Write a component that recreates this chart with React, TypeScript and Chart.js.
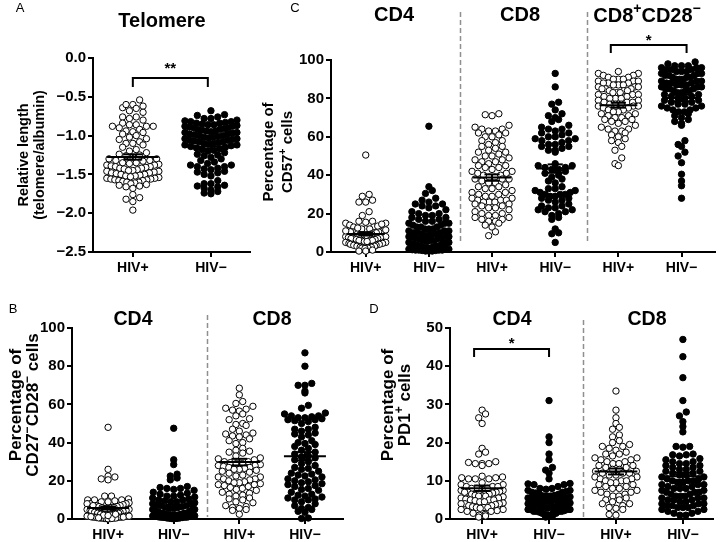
import React, { useEffect, useRef } from "react";
import { Chart, registerables } from "chart.js";

Chart.register(...registerables);

const FONT = "'Liberation Sans', Arial, Helvetica, sans-serif";
const W = 720;
const H = 542;

// ---------------- DATA ----------------
// Panel A: telomere relative length
const A_CATEGORIES = ["HIV+", "HIV−"];
const A_Y_TICKS = [0, -0.5, -1.0, -1.5, -2.0, -2.5];
const A_HIV_POS = [
  -0.54, -0.60, -0.62, -0.64, -0.65, -0.60, -0.68, -0.70,
  -0.76, -0.76, -0.78, -0.80, -0.84, -0.86, -0.88, -0.88, -0.90, -0.88, -0.86, -0.92,
  -0.94, -0.95, -0.96, -0.98, -1.00, -1.02, -1.04, -1.05, -1.08, -1.10, -1.12, -1.10,
  -1.15, -1.18, -1.20, -1.22, -1.24, -1.25, -1.26, -1.28, -1.30, -1.30, -1.32, -1.32, -1.33,
  -1.35, -1.35, -1.36, -1.37, -1.38, -1.38, -1.39, -1.40, -1.40, -1.41, -1.42, -1.42, -1.43,
  -1.44, -1.45, -1.45, -1.46, -1.46, -1.47, -1.48, -1.48, -1.49, -1.50, -1.50, -1.51, -1.52,
  -1.52, -1.53, -1.54, -1.55, -1.55, -1.56, -1.56, -1.57, -1.57, -1.58, -1.58, -1.59, -1.60,
  -1.60, -1.61, -1.62, -1.63, -1.64, -1.65, -1.66, -1.68,
  -1.76, -1.80, -1.82, -1.85, -1.96,
];
const A_HIV_NEG = [
  -0.68, -0.73, -0.74, -0.76, -0.78, -0.78,
  -0.80, -0.81, -0.82, -0.82, -0.83, -0.84, -0.84, -0.85, -0.86, -0.86, -0.87, -0.88, -0.88,
  -0.89, -0.90, -0.90, -0.91, -0.92, -0.92, -0.93, -0.94, -0.94, -0.95, -0.96, -0.96, -0.97,
  -0.98, -0.98, -0.99, -1.00, -1.00, -1.01, -1.02, -1.02, -1.03, -1.04, -1.04, -1.05, -1.06,
  -1.06, -1.07, -1.08, -1.08, -1.09, -1.10, -1.10, -1.11, -1.12, -1.12, -1.13, -1.14, -1.15,
  -1.16, -1.17, -1.18, -1.19, -1.20,
  -1.22, -1.24, -1.25, -1.26, -1.28, -1.30, -1.32, -1.34, -1.36, -1.38, -1.38, -1.40, -1.40,
  -1.42, -1.43, -1.44, -1.46, -1.47, -1.48, -1.50, -1.52,
  -1.58, -1.62, -1.62, -1.64, -1.65, -1.66, -1.68, -1.70, -1.72, -1.74, -1.75,
];

// Panel B: % CD27-CD28- cells
const B_CATEGORIES = ["HIV+", "HIV−", "HIV+", "HIV−"];
const B_Y_TICKS = [0, 20, 40, 60, 80, 100];
const B_CD4_HIV_POS = [
  48, 26, 22.5, 22, 21, 20.5, 12, 12, 10.5, 10, 10, 10, 9.5, 9, 9, 8.5, 8, 8, 8, 7.5, 7, 7, 7,
  6.5, 6.5, 6, 6, 6, 5.5, 5.5, 5, 5, 5, 5, 4.5, 4.5, 4.5, 4, 4, 4, 4, 3.5, 3.5, 3.5, 3, 3, 3, 3,
  2.5, 2.5, 2.5, 2.5, 2, 2, 2, 2, 1.5, 1.5, 1.5, 1.5, 1, 1, 1, 1, 0.8, 0.5, 0.5, 0.5, 0.3, 0.2,
  0.2, 0.1, 0.5, 1, 1.5, 2, 0.8, 1.2, 0.3, 2.5, 1.8, 0.6,
];
const B_CD4_HIV_NEG = [
  47.5, 31, 28.5, 23.5, 22.5, 21.5, 20.5, 17, 16.5, 16, 16, 15.5, 15, 14, 13.5, 13, 12.5, 12, 12,
  11.5, 11, 10.5, 10, 10, 9.5, 9, 9, 8.5, 8, 8, 7.5, 7, 7, 6.5, 6, 6, 5.5, 5.5, 5, 5, 5, 4.5, 4.5,
  4, 4, 4, 3.5, 3.5, 3, 3, 3, 3, 2.5, 2.5, 2.5, 2, 2, 2, 2, 1.5, 1.5, 1.5, 1, 1, 1, 1, 0.8, 0.5,
  0.5, 0.5, 0.3, 0.2, 0.2, 0.5, 1, 1.5, 2, 2.5, 3, 0.8, 1.2, 0.3, 1.8, 2.2, 0.6, 1.4, 1.6, 2.4,
  0.9, 1.1, 1.7, 2.1, 1.3, 0.7, 1.9,
];
const B_CD8_HIV_POS = [
  68.5, 65, 61.5, 60.5, 59, 58, 57.5, 57, 56.5, 55, 54, 52.5, 52, 50, 49.5, 49, 47, 46, 45, 44.5,
  44, 43.5, 43, 42, 41, 40, 39.5, 37, 36, 35.5, 35, 34.5, 33, 32, 31.5, 31, 30, 30, 29.5, 29, 29,
  28.5, 28, 28, 27.5, 27, 27, 26.5, 26, 26, 25.5, 25, 24.5, 24, 23, 22.5, 22, 22, 21, 21, 20.5,
  20, 19.5, 19, 19, 18.5, 18, 18, 17.5, 17, 16.5, 16, 15.5, 15, 14, 13.5, 13, 12.5, 12, 11, 10.5,
  10, 9, 8.5, 7, 6.5, 6, 5.5, 5, 4.5, 2.5,
];
const B_CD8_HIV_NEG = [
  87, 80, 71, 70, 70, 67, 66, 59.5, 58, 55.5, 55, 54, 54, 53.5, 53, 53, 52.5, 52, 52, 51.5, 51,
  50, 48, 47, 47, 46, 45, 44.5, 44, 43, 41, 40, 39.5, 39, 38, 37, 36, 35, 34, 33, 32.5, 32, 31,
  30, 29, 28, 27, 26.5, 26, 25, 24, 23.5, 23, 22.5, 22, 21, 20.5, 20, 19.5, 19, 18.5, 18, 17.5,
  17, 16, 15.5, 15, 14, 13, 12.5, 12, 11.5, 11, 10.5, 10, 10, 9, 8, 7, 6, 5.5, 5, 4, 3.5, 0.5, 0.3,
];

// Panel C: % CD57+ cells
const C_CATEGORIES = ["HIV+", "HIV−", "HIV+", "HIV−", "HIV+", "HIV−"];
const C_Y_TICKS = [0, 20, 40, 60, 80, 100];
const C_CD4_HIV_POS = [
  50.5, 30, 29, 27, 26, 26, 21, 19, 16, 15.5, 15, 15, 16, 14, 13, 13, 12, 12, 12, 11, 11, 11,
  10.5, 10.5, 10, 10, 10, 9.5, 9.5, 9, 9, 9, 8.5, 8.5, 8, 8, 8, 7.5, 7.5, 7, 7, 7, 6.5, 6.5, 6, 6,
  6, 6, 5.5, 5.5, 5, 5, 5, 5, 4.5, 4.5, 4.5, 4, 4, 4, 4, 3.5, 3.5, 3.5, 3, 3, 3, 3, 2.5, 2.5, 2.5,
  2, 2, 2, 2, 1.8, 12.5, 13.5, 11.5, 14.5, 10.5, 11, 1, 0.5, 0.5,
];
const C_CD4_HIV_NEG = [
  65.5, 34, 32, 30.5, 28, 27, 26, 25, 25, 24, 24, 23, 22, 21, 20, 20, 19, 19, 18, 18, 17, 17, 16,
  16, 15, 15, 15, 14, 14, 13, 13, 13, 12, 12, 12, 11, 11, 11, 10, 10, 10, 9.5, 9, 9, 8.5, 8, 8, 8,
  7.5, 7, 7, 7, 6.5, 6, 6, 6, 5.5, 5, 5, 5, 4.5, 4.5, 4, 4, 4, 3.5, 3.5, 3, 3, 3, 2.5, 2.5, 2, 2,
  2, 1.5, 1.5, 1, 1, 0.8, 0.5, 0.5, 0.5, 1, 1.5, 2, 2.5, 3, 3.5, 4, 1, 2, 0.8, 1.2, 2.8, 3.2,
];
const C_CD8_HIV_POS = [
  72, 71.5, 71, 66, 65, 64, 64, 63, 63, 62, 62, 61, 60, 60, 58, 58, 57, 56, 55, 55, 54, 53, 52, 52,
  51, 50, 50, 49, 48, 48, 47, 47, 46, 45, 45, 44, 44, 43, 42, 42, 41, 41, 40, 40, 39, 39, 38, 38,
  38, 37, 36, 36, 35, 34, 34, 33, 33, 32, 31, 31, 30, 30, 29, 29, 28, 28, 27, 27, 27, 26, 26, 26,
  25, 25, 24, 24, 23, 23, 22, 21, 20, 20, 19, 19, 18, 18, 17, 17, 16, 16, 15, 14, 13, 10.5, 8.5,
];
const C_CD8_HIV_NEG = [
  93, 86, 78, 77, 74, 72, 71, 70, 69, 68, 66, 65, 64, 64, 63, 62, 62, 61, 60, 60, 59, 59, 58, 58,
  57, 56, 56, 55, 55, 54, 53, 53, 52,
  46, 45, 45, 44, 44, 43, 43, 42, 41, 40, 39, 38, 37, 36,
  34, 33, 33, 32, 32, 31, 31, 30, 30, 30, 29, 29, 28, 28, 27, 27, 26,
  25, 24, 24, 23, 23, 22, 22, 21, 21, 20, 19, 18, 17,
  12, 10, 9.5, 5,
];
const C_CD28N_HIV_POS = [
  94, 93, 93, 92, 92, 91, 91, 90, 90, 90, 89, 89, 89, 88, 88, 88, 87, 87, 87, 86, 86, 86, 85, 85,
  85, 84, 84, 84, 83, 83, 83, 82, 82, 82, 81, 81, 80, 80, 80, 79, 79, 78, 78, 78, 77, 77, 77, 76,
  76, 76, 75, 75, 74, 74, 73, 73, 72, 72, 71, 71, 70, 70, 69, 69, 68, 68, 67, 66, 65, 64, 64, 63,
  63, 62, 61, 60, 59, 58, 57, 55, 53, 49, 46, 45,
];
const C_CD28N_HIV_NEG = [
  99, 98, 97, 97, 97, 96, 96, 96, 95, 95, 95, 94, 94, 94, 93, 93, 93, 92, 92, 92, 91, 91, 91, 90,
  90, 90, 89, 89, 89, 88, 88, 88, 87, 87, 87, 86, 86, 86, 85, 85, 85, 84, 84, 84, 83, 83, 82, 82,
  81, 81, 80, 80, 79, 79, 78, 78, 77, 77, 76, 76, 75, 75, 74, 74, 73, 73, 72, 71, 70, 69, 68, 67,
  66, 58, 56, 55, 52, 50, 46.5, 40.5, 37, 34.5, 28,
];

// Panel D: % PD1+ cells
const D_CATEGORIES = ["HIV+", "HIV−", "HIV+", "HIV−"];
const D_Y_TICKS = [0, 10, 20, 30, 40, 50];
const D_CD4_HIV_POS = [
  28.5, 27.5, 26.5, 25, 18.5, 17.5, 17, 15, 14.8, 14.5, 14.5, 14, 14.5, 11.2, 11, 10.8, 10.5,
  10.5, 10.8, 10.5, 9.5, 9, 9, 8.5, 8.5, 8.5, 8, 8, 8, 7.8, 7.5, 7.5, 7.2, 7, 7, 7, 6.8, 6.5, 6.5,
  6.2, 6, 6, 6, 5.8, 5.5, 5.5, 5.2, 5, 5, 5, 4.8, 4.5, 4.5, 4.2, 4, 4, 4, 3.8, 3.5, 3.5, 3.2, 3, 3,
  3, 2.8, 2.5, 2.5, 2.2, 2, 2, 1.5, 1.2, 1, 0.8, 0.5,
];
const D_CD4_HIV_NEG = [
  31, 21.5, 20, 17, 15.5, 13.5, 12.8, 12, 10.5, 9.3, 9.2, 9, 9, 8.5, 8, 8, 7.8, 7.5, 7.5, 7.2, 7,
  7, 6.8, 6.5, 6.5, 6.2, 6, 6, 6, 5.8, 5.5, 5.5, 5.5, 5.2, 5, 5, 5, 4.8, 4.5, 4.5, 4.5, 4.2, 4, 4,
  4, 3.8, 3.5, 3.5, 3.5, 3.2, 3, 3, 3, 2.8, 2.5, 2.5, 2.5, 2.2, 2, 2, 2, 1.8, 1.5, 1.5, 1.2, 1, 1,
  0.8, 0.5, 3, 2.5, 2, 4, 1.5, 3.5,
];
const D_CD8_HIV_POS = [
  33.5, 28.5, 26.5, 25, 24, 23.5, 22, 21.5, 20.5, 20, 19.5, 19, 19, 18.5, 18, 17.5, 17, 17, 16.5,
  16, 16, 15.5, 15.5, 15, 15, 14.5, 14.5, 14, 14, 13.5, 13.5, 13, 13, 12.5, 12.5, 12, 12, 12, 11.5,
  11.5, 11, 11, 10.5, 10.5, 10, 10, 10, 9.5, 9.5, 9, 9, 8.5, 8.5, 8, 8, 7.5, 7.5, 7, 7, 6.5, 6.5,
  6, 6, 5.5, 5, 5, 4.5, 4, 4, 3.5, 3, 2.8, 2.5, 1, 1.2,
];
const D_CD8_HIV_NEG = [
  47, 42.5, 37, 31, 28, 27, 25.5, 24.2, 22.8, 19, 19, 18.8, 17, 16.8, 16.8, 16.5, 15.8, 15.5, 15,
  15, 14.5, 14.5, 14, 14, 13.5, 13.5, 13, 13, 12.5, 12.5, 12, 12, 11.5, 11.5, 11, 11, 10.5, 10.5,
  10, 10, 10, 9.5, 9.5, 9, 9, 9, 8.5, 8.5, 8, 8, 8, 7.5, 7.5, 7, 7, 7, 6.5, 6.5, 6, 6, 6, 5.5,
  5.5, 5.5, 5, 5, 5, 4.5, 4.5, 4, 4, 4, 3.5, 3.5, 3.5, 3, 3, 3, 2.5, 2.5, 2, 2, 1.5, 1.5, 1, 1,
];

// ---------------- LAYOUT ----------------
type Seg = { t: string; sup?: boolean };
type Panel = {
  cats: string[];
  groups: number[][];
  yTicks: number[];
  yMin: number;
  yMax: number;
  xMin: number;
  xMax: number;
  area: { left: number; right: number; top: number; bottom: number };
  fmt: (v: number) => string;
  letter: { t: string; x: number; y: number };
  titles: { segs: Seg[]; x: number; y: number; size: number }[];
  yTitle: { lines: Seg[][]; xs: number[]; cy: number; size: number };
  seps: { x: number; top: number; bottom: number }[];
  bracket?: { x1: number; x2: number; y: number; leg: number; text: string; textY: number };
  meanHalf: number;
  capHalf: number;
  swarmMax: number;
};

const fmtNum = (v: number) => String(v);
const fmtA = (v: number) => (v === 0 ? "0.0" : v.toFixed(1).replace("-", "−"));

const PANELS: Panel[] = [
  {
    cats: A_CATEGORIES,
    groups: [A_HIV_POS, A_HIV_NEG],
    yTicks: A_Y_TICKS,
    yMin: -2.5,
    yMax: 0,
    xMin: -0.51,
    xMax: 1.5,
    area: { left: 93, right: 250, top: 58, bottom: 252 },
    fmt: fmtA,
    letter: { t: "A", x: 20, y: 8 },
    titles: [{ segs: [{ t: "Telomere" }], x: 162, y: 21, size: 20 }],
    yTitle: { lines: [[{ t: "Relative length" }], [{ t: "(telomere/albumin)" }]], xs: [24, 40], cy: 155, size: 14.5 },
    seps: [],
    bracket: { x1: 0, x2: 0.96, y: 78, leg: 9, text: "**", textY: 64 },
    meanHalf: 0.33,
    capHalf: 0.12,
    swarmMax: 52,
  },
  {
    cats: C_CATEGORIES,
    groups: [C_CD4_HIV_POS, C_CD4_HIV_NEG, C_CD8_HIV_POS, C_CD8_HIV_NEG, C_CD28N_HIV_POS, C_CD28N_HIV_NEG],
    yTicks: C_Y_TICKS,
    yMin: 0,
    yMax: 100,
    xMin: -0.55,
    xMax: 5.53,
    area: { left: 331, right: 719, top: 60, bottom: 252 },
    fmt: fmtNum,
    letter: { t: "C", x: 295, y: 8 },
    titles: [
      { segs: [{ t: "CD4" }], x: 394, y: 15, size: 20 },
      { segs: [{ t: "CD8" }], x: 520, y: 15, size: 20 },
      { segs: [{ t: "CD8" }, { t: "+", sup: true }, { t: "CD28" }, { t: "−", sup: true }], x: 647, y: 16, size: 20 },
    ],
    yTitle: {
      lines: [[{ t: "Percentage of" }], [{ t: "CD57" }, { t: "+", sup: true }, { t: " cells" }]],
      xs: [269, 288],
      cy: 152,
      size: 15,
    },
    seps: [
      { x: 1.5, top: 12, bottom: 242 },
      { x: 3.5, top: 12, bottom: 242 },
    ],
    bracket: { x1: 3.88, x2: 5.08, y: 45, leg: 8, text: "*", textY: 36 },
    meanHalf: 0.3,
    capHalf: 0.12,
    swarmMax: 40,
  },
  {
    cats: B_CATEGORIES,
    groups: [B_CD4_HIV_POS, B_CD4_HIV_NEG, B_CD8_HIV_POS, B_CD8_HIV_NEG],
    yTicks: B_Y_TICKS,
    yMin: 0,
    yMax: 100,
    xMin: -0.55,
    xMax: 3.58,
    area: { left: 72, right: 343, top: 328, bottom: 519 },
    fmt: fmtNum,
    letter: { t: "B", x: 13, y: 309 },
    titles: [
      { segs: [{ t: "CD4" }], x: 133, y: 320, size: 19.5 },
      { segs: [{ t: "CD8" }], x: 272, y: 320, size: 19.5 },
    ],
    yTitle: {
      lines: [
        [{ t: "Percentage of" }],
        [{ t: "CD27" }, { t: "−", sup: true }, { t: "CD28" }, { t: "−", sup: true }, { t: " cells" }],
      ],
      xs: [16, 33],
      cy: 405,
      size: 17,
    },
    seps: [{ x: 1.5, top: 315, bottom: 517 }],
    meanHalf: 0.32,
    capHalf: 0.12,
    swarmMax: 42,
  },
  {
    cats: D_CATEGORIES,
    groups: [D_CD4_HIV_POS, D_CD4_HIV_NEG, D_CD8_HIV_POS, D_CD8_HIV_NEG],
    yTicks: D_Y_TICKS,
    yMin: 0,
    yMax: 50,
    xMin: -0.48,
    xMax: 3.45,
    area: { left: 450, right: 713, top: 328, bottom: 519 },
    fmt: fmtNum,
    letter: { t: "D", x: 374, y: 309 },
    titles: [
      { segs: [{ t: "CD4" }], x: 512, y: 320, size: 19.5 },
      { segs: [{ t: "CD8" }], x: 647, y: 320, size: 19.5 },
    ],
    yTitle: {
      lines: [[{ t: "Percentage of" }], [{ t: "PD1" }, { t: "+", sup: true }, { t: " cells" }]],
      xs: [388, 405],
      cy: 405,
      size: 17,
    },
    seps: [{ x: 1.5, top: 320, bottom: 517 }],
    bracket: { x1: -0.12, x2: 1.0, y: 349, leg: 8, text: "*", textY: 339 },
    meanHalf: 0.32,
    capHalf: 0.12,
    swarmMax: 42,
  },
];

const Y_W = 60;
const X_H = 28;
const BIN = 6.5;
const DOT = 6.8;

function drawRich(ctx: CanvasRenderingContext2D, segs: Seg[], x: number, y: number, size: number) {
  const fontOf = (s: Seg) => `bold ${s.sup ? size * 0.7 : size}px ${FONT}`;
  let total = 0;
  const widths = segs.map((s) => {
    ctx.font = fontOf(s);
    const w = ctx.measureText(s.t).width;
    total += w;
    return w;
  });
  let cx = x - total / 2;
  ctx.textAlign = "left";
  ctx.textBaseline = "middle";
  segs.forEach((s, i) => {
    ctx.font = fontOf(s);
    ctx.fillText(s.t, cx, s.sup ? y - size * 0.34 : y);
    cx += widths[i];
  });
}

function makeChart(canvas: HTMLCanvasElement, p: Panel) {
  const datasets: any[] = [];
  const lineDs = (pts: { x: number; y: number }[]) => ({
    data: pts,
    showLine: true,
    borderColor: "#000",
    borderWidth: 2,
    pointRadius: 0,
    fill: false,
    order: 0,
    clip: false,
  });
  p.groups.forEach((vals, gi) => {
    const n = vals.length;
    const mean = vals.reduce((a, b) => a + b, 0) / n;
    const sd = Math.sqrt(vals.reduce((a, b) => a + (b - mean) * (b - mean), 0) / (n - 1));
    const sem = sd / Math.sqrt(n);
    datasets.push(lineDs([{ x: gi - p.meanHalf, y: mean }, { x: gi + p.meanHalf, y: mean }]));
    datasets.push(lineDs([{ x: gi, y: mean - sem }, { x: gi, y: mean + sem }]));
    datasets.push(lineDs([{ x: gi - p.capHalf, y: mean + sem }, { x: gi + p.capHalf, y: mean + sem }]));
    datasets.push(lineDs([{ x: gi - p.capHalf, y: mean - sem }, { x: gi + p.capHalf, y: mean - sem }]));
  });
  const pointIdx: number[] = [];
  p.groups.forEach((vals, gi) => {
    pointIdx.push(datasets.length);
    const open = gi % 2 === 0;
    datasets.push({
      data: vals.map((v) => ({ x: gi, y: v })),
      showLine: false,
      pointRadius: 3.2,
      pointBorderWidth: 1,
      pointBorderColor: "#000",
      pointBackgroundColor: open ? "#fff" : "#000",
      borderColor: "#000",
      backgroundColor: open ? "#fff" : "#000",
      order: 1,
      clip: false,
    });
  });

  const annot = {
    id: "annot" + p.letter.t,
    afterDraw(chart: any) {
      const ctx: CanvasRenderingContext2D = chart.ctx;
      const xs = chart.scales.x;
      ctx.save();
      ctx.strokeStyle = "#8f8f8f";
      ctx.lineWidth = 1.5;
      ctx.setLineDash([5, 3]);
      p.seps.forEach((s) => {
        const x = Math.round(xs.getPixelForValue(s.x)) + 0.5;
        ctx.beginPath();
        ctx.moveTo(x, s.top);
        ctx.lineTo(x, s.bottom);
        ctx.stroke();
      });
      ctx.setLineDash([]);
      ctx.fillStyle = "#000";
      ctx.font = `13px ${FONT}`;
      ctx.textAlign = "center";
      ctx.textBaseline = "middle";
      ctx.fillText(p.letter.t, p.letter.x, p.letter.y);
      p.titles.forEach((t) => drawRich(ctx, t.segs, t.x, t.y, t.size));
      p.yTitle.lines.forEach((segs, i) => {
        ctx.save();
        ctx.translate(p.yTitle.xs[i], p.yTitle.cy);
        ctx.rotate(-Math.PI / 2);
        drawRich(ctx, segs, 0, 0, p.yTitle.size);
        ctx.restore();
      });
      if (p.bracket) {
        const b = p.bracket;
        const x1 = xs.getPixelForValue(b.x1);
        const x2 = xs.getPixelForValue(b.x2);
        ctx.strokeStyle = "#000";
        ctx.lineWidth = 2;
        ctx.beginPath();
        ctx.moveTo(x1, b.y + b.leg);
        ctx.lineTo(x1, b.y);
        ctx.lineTo(x2, b.y);
        ctx.lineTo(x2, b.y + b.leg);
        ctx.stroke();
        ctx.font = `bold 15px ${FONT}`;
        ctx.textAlign = "center";
        ctx.textBaseline = "alphabetic";
        ctx.fillText(b.text, (x1 + x2) / 2, b.textY + 15 * 0.58);
      }
      ctx.restore();
    },
  };

  const chart = new Chart(canvas, {
    type: "scatter",
    data: { datasets },
    options: {
      responsive: false,
      devicePixelRatio: 1,
      animation: false,
      events: [],
      layout: {
        padding: {
          left: p.area.left - Y_W,
          right: W - p.area.right,
          top: p.area.top,
          bottom: H - p.area.bottom - X_H,
        },
      },
      plugins: { legend: { display: false }, tooltip: { enabled: false }, title: { display: false } },
      scales: {
        x: {
          type: "linear",
          min: p.xMin,
          max: p.xMax,
          afterFit: (s: any) => {
            s.height = X_H;
          },
          afterBuildTicks: (s: any) => {
            s.ticks = p.cats.map((_, i) => ({ value: i }));
          },
          ticks: {
            callback: (_v: any, i: number) => p.cats[i],
            font: { family: FONT, size: 14, weight: "bold" },
            color: "#000",
            padding: 3,
            maxRotation: 0,
            autoSkip: false,
          },
          grid: { display: true, drawOnChartArea: false, drawTicks: true, tickLength: 5, color: "#000", lineWidth: 2 },
          border: { display: true, color: "#000", width: 2 },
        },
        y: {
          type: "linear",
          min: p.yMin,
          max: p.yMax,
          afterFit: (s: any) => {
            s.width = Y_W;
          },
          afterBuildTicks: (s: any) => {
            s.ticks = p.yTicks.map((v) => ({ value: v }));
          },
          ticks: {
            callback: (v: any) => p.fmt(Number(v)),
            font: { family: FONT, size: 15, weight: "bold" },
            color: "#000",
            padding: 2,
            autoSkip: false,
          },
          grid: { display: true, drawOnChartArea: false, drawTicks: true, tickLength: 5, color: "#000", lineWidth: 2 },
          border: { display: true, color: "#000", width: 2 },
        },
      },
    } as any,
    plugins: [annot],
  });

  // beeswarm (Prism-like row binning) using the chart's own scales
  const xs: any = chart.scales.x;
  const ys: any = chart.scales.y;
  const ppu = xs.getPixelForValue(1) - xs.getPixelForValue(0);
  p.groups.forEach((vals, gi) => {
    const ds: any = chart.data.datasets[pointIdx[gi]];
    const bins = new Map<number, number[]>();
    vals.forEach((v, i) => {
      const b = Math.round((ys.bottom - ys.getPixelForValue(v)) / BIN);
      if (!bins.has(b)) bins.set(b, []);
      bins.get(b)!.push(i);
    });
    bins.forEach((idxs) => {
      idxs.sort((a, b) => vals[a] - vals[b]);
      const n = idxs.length;
      const step = n > 1 ? Math.min(DOT, p.swarmMax / (n - 1)) : 0;
      const slots = Array.from({ length: n }, (_, k) => (k - (n - 1) / 2) * step);
      slots.sort((a, b) => Math.abs(a) - Math.abs(b) || a - b);
      idxs.forEach((vi, k) => {
        ds.data[vi].x = gi + slots[k] / ppu;
      });
    });
  });
  chart.update("none");
  return chart;
}

export default function App() {
  const refs = useRef<(HTMLCanvasElement | null)[]>([]);
  useEffect(() => {
    const charts = PANELS.map((p, i) => makeChart(refs.current[i] as HTMLCanvasElement, p));
    return () => charts.forEach((c) => c.destroy());
  }, []);
  return (
    <div style={{ position: "fixed", left: 0, top: 0, width: W, height: H, background: "#fff" }}>
      {PANELS.map((_, i) => (
        <canvas
          key={i}
          ref={(el) => {
            refs.current[i] = el;
          }}
          width={W}
          height={H}
          style={{ position: "absolute", left: 0, top: 0, width: W, height: H }}
        />
      ))}
    </div>
  );
}
